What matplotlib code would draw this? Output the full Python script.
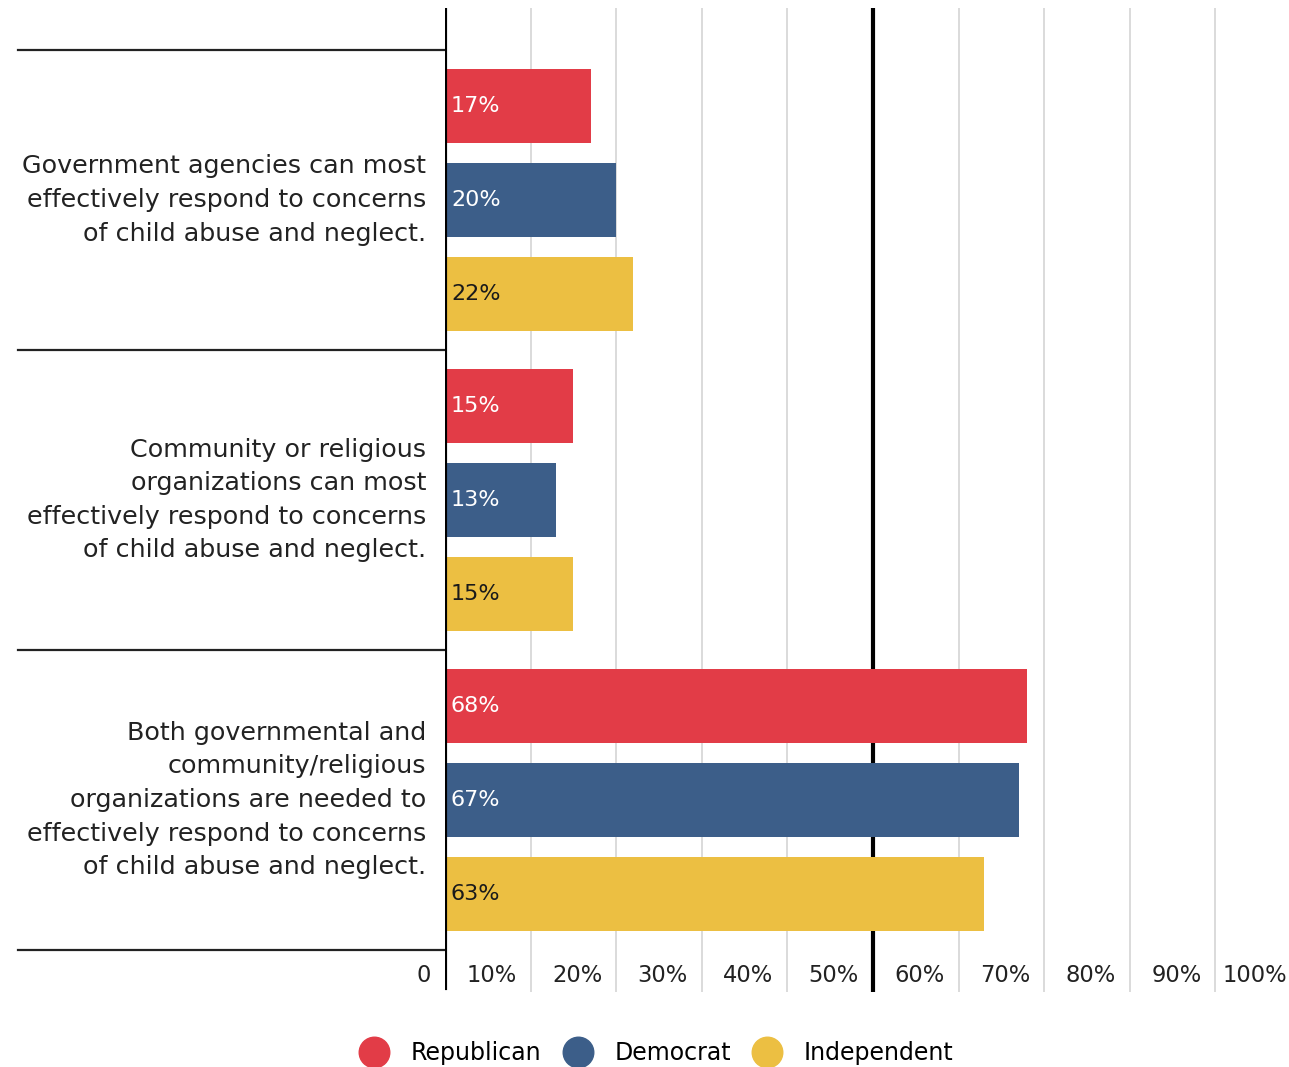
import matplotlib.pyplot as plt
import matplotlib.transforms as mtransforms
from matplotlib.lines import Line2D

plt.rcParams['font.family'] = ['DejaVu Sans']

# statements (one group of bars each)
statements = [
    "Government agencies can most\neffectively respond to concerns\nof child abuse and neglect.",
    "Community or religious\norganizations can most\neffectively respond to concerns\nof child abuse and neglect.",
    "Both governmental and\ncommunity/religious\norganizations are needed to\neffectively respond to concerns\nof child abuse and neglect.",
]
parties = ["Republican", "Democrat", "Independent"]
republican = [17, 15, 68]
democrat = [20, 13, 67]
independent = [22, 15, 63]
tick_values = [0, 10, 20, 30, 40, 50, 60, 70, 80, 90, 100]
tick_labels = ["0", "10%", "20%", "30%", "40%", "50%", "60%", "70%", "80%", "90%", "100%"]

colors = ["#E23C47", "#3C5E89", "#ECBF42"]
text_colors = ["white", "white", "#1a1a1a"]

fig = plt.figure(figsize=(12.89, 10.67), dpi=100)
ax = fig.add_axes([445 / 1289, 1 - 992 / 1067, 1 - 445 / 1289, (992 - 8) / 1067])

offsets = [-0.312, 0, 0.312]
bar_h = 0.247
series = [republican, democrat, independent]
for i, vals in enumerate(series):
    ys = [g + offsets[i] for g in range(len(statements))]
    ax.barh(ys, vals, height=bar_h, color=colors[i], zorder=3)
    for y, v in zip(ys, vals):
        off = mtransforms.offset_copy(ax.transData, fig=fig, x=6, y=0, units='dots')
        ax.text(0, y, f"{v}%", transform=off, ha='left', va='center',
                color=text_colors[i], fontsize=16, zorder=4)

ax.set_xlim(0, 98.6)
ax.set_ylim(2.64, -0.64)

# gridlines
for v in tick_values[1:]:
    if v == 50:
        ax.axvline(v, color='black', lw=3, zorder=2)
    elif v < 98.6:
        ax.axvline(v, color='#d4d4d4', lw=1.2, zorder=1)
ax.axvline(0, color='black', lw=3, zorder=5, ymin=0.004)

# tick labels, right aligned just left of each gridline
for v, lab in zip(tick_values, tick_labels):
    tr = mtransforms.offset_copy(ax.get_xaxis_transform(), fig=fig, x=-14, y=0, units='dots')
    ax.text(v, 0.017, lab, transform=tr, ha='right', va='center',
            fontsize=16.3, color='#222222', clip_on=False)

# separators on the left
for s in [-0.5, 0.5, 1.5, 2.5]:
    ax.axhline(s, xmin=-0.506, xmax=0, color='#222222', lw=1.6, clip_on=False)

# statement labels
ylab_tr = mtransforms.blended_transform_factory(ax.transAxes, ax.transData)
for g, s in enumerate(statements):
    ax.text(-0.0225, g, s, transform=ylab_tr, ha='right', va='center',
            fontsize=18.3, color='#222222', linespacing=1.5)

for sp in ax.spines.values():
    sp.set_visible(False)
ax.set_xticks([])
ax.set_yticks([])

handles = [Line2D([], [], marker='o', ls='none', markersize=22, color=c) for c in colors]
fig.legend(handles, parties, loc='center', bbox_to_anchor=(0.5095, 1 - 1053 / 1067),
           ncol=3, frameon=False, fontsize=17, handletextpad=0.95, columnspacing=0.95,
           handlelength=1.2, borderaxespad=0)

fig.savefig("out.png", dpi=100)
